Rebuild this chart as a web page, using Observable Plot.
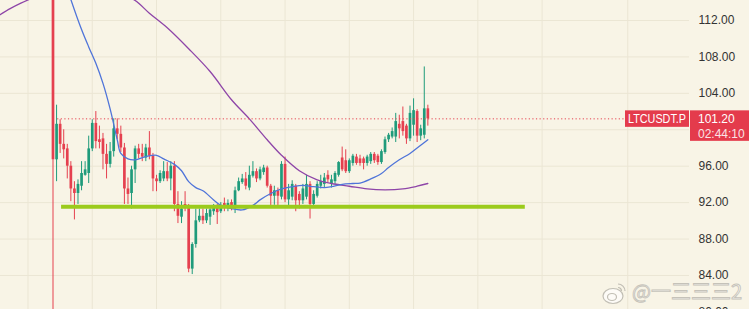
<!DOCTYPE html>
<html><head><meta charset="utf-8">
<script src="https://cdn.jsdelivr.net/npm/d3@7"></script>
<script src="https://cdn.jsdelivr.net/npm/@observablehq/plot@0.6"></script>
<style>
html,body{margin:0;padding:0;background:#f8f4e6;overflow:hidden}
#chart{position:relative;width:749px;height:309px}
</style></head><body><div id="chart"></div>
<script>
// OHLC per candle (index = candle number)
const opens  = [125,96.7,100.6,98.4,97.9,96.0,93.5,93.0,93.8,95.0,95.2,97.9,100.7,98.9,99.0,97.3,96.2,97.6,100.1,99.5,98.0,93.5,93.0,95.6,97.9,97.4,96.9,98.0,97.1,94.6,94.3,94.6,95.4,94.6,96.0,91.8,90.4,91.8,91.5,84.7,87.4,90.0,90.5,90.0,90.4,91.0,91.6,91.0,91.9,91.4,92.0,91.5,93.3,94.2,94.6,93.6,94.9,95.4,94.6,95.3,95.8,93.8,92.7,93.3,92.6,96.2,92.3,92.6,93.8,92.9,92.2,92.6,94.0,91.8,92.7,93.8,94.0,95.0,94.0,94.3,95.0,96.9,96.6,95.4,96.3,97.0,96.8,96.8,96.3,96.5,97.3,97.1,96.4,97.5,98.9,99.2,99.2,100.6,100.9,100.4,99.0,100.5,102.0,99.3,99.4,102.3];
const highs  = [126,102.7,101.1,100.0,98.4,96.5,94.3,94.5,96.5,96.5,99.3,101.1,102.0,100.4,99.6,98.4,98.6,101.2,101.2,100.4,98.5,94.7,96.0,98.2,98.4,98.4,98.4,99.8,97.4,95.0,95.5,96.5,96.4,96.5,96.5,93.2,92.1,93.2,91.8,87.6,91.3,91.3,91.3,91.3,91.5,91.8,91.8,92.0,92.5,92.3,92.3,93.7,94.7,95.1,95.3,96.0,96.5,95.7,95.9,96.1,96.0,94.0,93.8,93.6,96.5,97.0,94.0,94.4,94.0,93.2,94.0,95.0,94.3,93.3,94.3,95.0,95.2,95.5,95.0,95.4,96.5,98.1,97.8,96.8,97.3,97.3,97.2,97.0,97.2,97.5,97.5,97.3,97.8,99.2,99.6,100.2,101.8,101.6,102.5,100.6,102.6,103.4,102.2,100.5,106.9,102.7];
const lows   = [70,94.3,97.4,96.8,94.6,92.1,90.1,91.8,93.3,94.9,94.1,97.6,97.9,97.9,95.6,94.6,95.8,97.0,98.9,97.5,91.8,91.8,91.3,94.1,96.8,96.5,96.5,96.7,93.2,93.2,94.1,94.3,94.3,93.3,91.0,89.7,89.7,91.0,84.3,84.1,87.0,89.8,89.6,89.7,89.5,90.6,89.6,90.8,91.0,91.0,91.1,90.8,93.2,94.0,93.4,93.3,94.7,94.2,94.4,95.0,93.6,91.6,91.7,91.5,92.3,92.0,91.6,92.2,91.0,91.3,91.8,92.3,90.2,91.5,92.5,93.5,93.6,94.2,93.6,94.0,94.8,95.4,95.2,95.2,96.0,96.1,96.0,95.6,96.0,96.2,96.3,96.1,96.2,97.3,98.6,99.0,98.6,99.0,99.3,98.4,98.7,99.3,98.6,98.8,99.0,100.4];
const closes = [96.7,100.6,98.4,97.8,96.0,93.5,93.0,94.0,95.2,95.6,97.9,100.7,98.7,98.6,97.3,96.2,97.6,100.1,99.5,98.0,93.5,92.9,95.6,97.9,97.3,97.0,98.0,97.1,94.6,94.3,95.2,95.4,94.6,96.0,91.8,90.5,91.3,91.4,84.7,87.4,90.0,90.5,90.0,90.8,91.2,91.5,90.9,91.7,91.4,91.9,91.5,93.3,94.3,94.6,93.8,95.0,95.4,94.6,95.6,95.8,93.8,92.7,93.3,92.7,96.2,92.3,93.3,94.0,92.2,92.2,93.5,94.0,91.8,92.9,94.0,94.3,94.7,94.5,94.5,95.2,96.4,95.6,95.4,96.6,97.1,96.3,96.3,96.3,97.0,97.3,96.6,96.4,97.6,98.9,99.4,99.8,100.9,100.1,99.8,99.0,101.8,102.1,99.3,100.1,102.3,101.2];

// Moving averages (candle index, price)
const maFastIdx = [3,5,8,10,12,14,16,18,19,21,23,26,29,31,34,36,38,40,42,45,47,50,53,56,58,61,64,67,70,73,76,78,81,84,86,89,92,94,97,100,103,105];
const maFastVal = [116.7,114.3,111.0,109.1,107.3,105.1,102.3,98.9,97.4,96.8,96.7,97.05,97.2,96.8,96.2,95.5,94.3,93.65,93.3,92.3,91.7,91.35,91.2,91.7,92.3,93.0,93.5,93.75,93.9,93.75,93.65,93.75,94.0,94.1,94.15,94.6,95.2,95.85,96.7,97.4,98.3,98.9];
const maSlowIdx = [-15,-12,-9,-5,0,6,12,18,23,27,32,38,44,50,55,60,64,69,74,78,83,88,93,98,102,105];
const maSlowVal = [112.6,113.3,113.9,114.6,115.5,116.1,116.0,115.1,114.2,112.8,111.2,108.9,106.4,103.3,101.2,98.9,97.2,95.5,94.5,94.1,93.8,93.5,93.4,93.5,93.8,94.1];

// Price axis, grid and drawings
const axisTicks = [80,84,88,92,96,104,108,112];
const gridPrices = [80,84,88,92,96,100,104,108,112];
const gridIdx = [-7,11,29,47,65,83,101,119,137,161];
const supportPrice = 91.55, supportFrom = 2.4, supportTo = 132.3;
const symbol = "LTCUSDT.P";
const lastPrice = 101.20;
const countdown = "02:44:10";
const watermark = "@一三三三2";

const W = 749, H = 309, MR = 60;
const candles = opens.map((o, i) => ({i, o, h: highs[i], l: lows[i], c: closes[i], up: closes[i] >= o}));
const fast = maFastIdx.map((i, k) => ({i, v: maFastVal[k]}));
const slow = maSlowIdx.map((i, k) => ({i, v: maSlowVal[k]}));
const UP = "#1f9b7b", DN = "#e5404f";
const step = 3.57, x0 = 52.5, frameR = W - MR;
const xDom = [(0 - x0) / step, (frameR - x0) / step];

const plot = Plot.plot({
  width: W, height: H,
  marginLeft: 0, marginRight: MR, marginTop: 0, marginBottom: 0,
  style: {background: "#f8f4e6", fontFamily: "'Liberation Sans', Arial, sans-serif", fontSize: "12px", color: "#333"},
  x: {type: "linear", domain: xDom, range: [0, frameR], axis: null},
  y: {domain: [80, 112], range: [311.4, 20], axis: null},
  marks: [
    Plot.ruleY(gridPrices, {stroke: "#ebe6d4", strokeWidth: 1}),
    Plot.ruleX(gridIdx, {stroke: "#ebe6d4", strokeWidth: 1}),
    Plot.axisY({anchor: "right", ticks: axisTicks, tickSize: 0, tickPadding: 9, tickFormat: d3.format(".2f"), label: null, fill: "#333", fontSize: 12}),
    Plot.ruleX(candles, {x: "i", y1: "l", y2: "h", stroke: d => d.up ? UP : DN, strokeWidth: 1, clip: true}),
    Plot.ruleX(candles, {x: "i", y1: "o", y2: "c", stroke: d => d.up ? UP : DN, strokeWidth: 2.7, clip: true}),
    Plot.line(slow, {x: "i", y: "v", stroke: "#8e45a8", strokeWidth: 1.3, curve: "catmull-rom", clip: true}),
    Plot.line(fast, {x: "i", y: "v", stroke: "#4f74d9", strokeWidth: 1.3, curve: "catmull-rom", clip: true}),
    Plot.ruleY([lastPrice], {x1: 1.3, x2: xDom[1], stroke: "#e5404f", strokeWidth: 1, strokeDasharray: "1.2,2.4"}),
    Plot.ruleY([supportPrice], {x1: supportFrom, x2: supportTo, stroke: "#9bcb1c", strokeWidth: 4})
  ]
});

const svg = d3.select(plot);
const yP = plot.scale("y").apply(lastPrice);
const g = svg.append("g").attr("font-family", "'Liberation Sans', Arial, sans-serif").attr("font-size", 12).attr("text-anchor", "start");
g.append("rect").attr("x", frameR - 64).attr("y", yP - 8).attr("width", 64).attr("height", 16.5).attr("fill", "#e43b4c");
g.append("text").attr("x", frameR - 61).attr("y", yP + 4.5).attr("fill", "#fff")
  .attr("textLength", 58).attr("lengthAdjust", "spacingAndGlyphs").text(symbol);
g.append("rect").attr("x", frameR + 1).attr("y", yP - 8).attr("width", MR - 1).attr("height", 30.5).attr("fill", "#e43b4c");
g.append("text").attr("x", frameR + 9).attr("y", yP + 4.5).attr("fill", "#fff").text(d3.format(".2f")(lastPrice));
g.append("text").attr("x", frameR + 9).attr("y", yP + 19.5).attr("fill", "#fbe3e5").text(countdown);

// watermark
const wm = svg.append("g").attr("opacity", 0.85).attr("text-anchor", "start");
wm.append("ellipse").attr("cx", 613).attr("cy", 296).attr("rx", 10).attr("ry", 7.5).attr("fill", "rgba(255,255,255,0.8)").attr("stroke", "#b9b6ad").attr("stroke-width", 1.2);
wm.append("ellipse").attr("cx", 612).attr("cy", 297).attr("rx", 4.5).attr("ry", 3.5).attr("fill", "none").attr("stroke", "#b9b6ad").attr("stroke-width", 1.2);
wm.append("path").attr("d", "M618,284 a7,7 0 0 1 7,7 M618,287.5 a3.5,3.5 0 0 1 3.5,3.5").attr("fill", "none").attr("stroke", "#b9b6ad").attr("stroke-width", 1.2);
wm.append("text").attr("x", 632).attr("y", 299).attr("font-family", "'Noto Sans CJK SC', sans-serif").attr("font-size", 20)
  .attr("fill", "rgba(255,255,255,0.85)").attr("stroke", "#bdbab2").attr("stroke-width", 0.9).text(watermark);

document.getElementById("chart").appendChild(plot);
</script></body></html>
